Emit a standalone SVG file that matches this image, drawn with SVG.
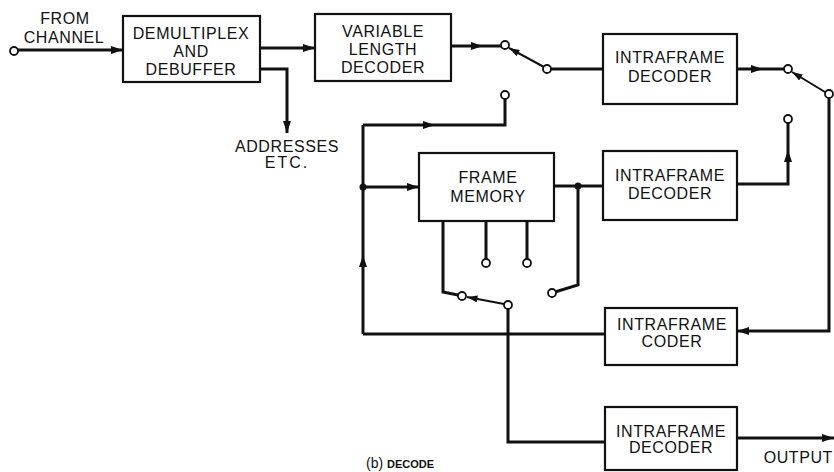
<svg xmlns="http://www.w3.org/2000/svg" width="834" height="472" viewBox="0 0 834 472">
<defs>
<style>
.box{fill:#fff;stroke:#111;stroke-width:2.2}
.t{font-family:"Liberation Sans",Arial,Helvetica,sans-serif;font-size:16px;letter-spacing:0.6px;fill:#111;text-anchor:middle}
.w{fill:none;stroke:#111;stroke-width:3;stroke-linejoin:miter}
.lv{fill:none;stroke:#111;stroke-width:2}
.pt{fill:#fff;stroke:#111;stroke-width:1.8}
.dot{fill:#111}
.a{marker-end:url(#ah)}
.as{marker-end:url(#ahs)}
</style>
<marker id="ah" viewBox="0 0 12 8" refX="12" refY="4" markerWidth="12" markerHeight="8" markerUnits="userSpaceOnUse" orient="auto">
<path d="M0,0 L12,4 L0,8 z" fill="#111"/>
</marker>
<marker id="ahs" viewBox="0 0 12 8" refX="12" refY="4" markerWidth="11" markerHeight="7" markerUnits="userSpaceOnUse" orient="auto">
<path d="M0,0 L12,4 L0,8 z" fill="#111"/>
</marker>
</defs>
<rect width="834" height="472" fill="#fff"/>

<g id="connectors">
<path class="w a" d="M18,50 L123,50"/>
<path class="w a" d="M260,48 L315,48"/>
<path class="w a" d="M260,69 L287,69 L287,133"/>
<path class="w a" d="M451,46 L483,46"/>
<path class="w" d="M483,46 L501,46"/>
<path class="lv as" d="M544,67 L509,48"/>
<path class="w" d="M551,69 L603,69"/>
<path class="w a" d="M737,69 L763,69"/>
<path class="w" d="M763,69 L784,69"/>
<path class="lv as" d="M825,92 L792,72"/>
<path class="w a" d="M829,98 L829,331 L737,331"/>
<path class="w a" d="M737,184 L788,184 L788,150"/>
<path class="w" d="M788,150 L788,123"/>
<path class="w" d="M505,99 L505,125 L435,125"/>
<path class="w a" d="M363,125 L435,125"/>
<path class="w a" d="M363,334 L363,255"/>
<path class="w" d="M363,255 L363,125"/>
<path class="w" d="M605,334 L363,334"/>
<path class="w a" d="M363,187 L419,187"/>
<path class="w" d="M554,186 L603,186"/>
<path class="w" d="M578,186 L578,285 L555,292"/>
<path class="w" d="M443,221 L443,292 L458,295"/>
<path class="w" d="M486,221 L486,259"/>
<path class="w" d="M527,221 L527,259"/>
<path class="lv as" d="M504,304 L467,297"/>
<path class="w" d="M508,309 L508,442 L605,442"/>
<path class="w a" d="M737,438 L834,438"/>
<circle class="dot" cx="363" cy="187" r="3.5"/>
<circle class="dot" cx="578" cy="186" r="3.5"/>
<circle class="pt" cx="14" cy="51" r="4"/>
<circle class="pt" cx="505" cy="45" r="4"/>
<circle class="pt" cx="547" cy="69" r="4"/>
<circle class="pt" cx="505" cy="95" r="4"/>
<circle class="pt" cx="788" cy="69" r="4"/>
<circle class="pt" cx="829" cy="94" r="4"/>
<circle class="pt" cx="788" cy="119" r="4"/>
<circle class="pt" cx="486" cy="263" r="4"/>
<circle class="pt" cx="527" cy="263" r="4"/>
<circle class="pt" cx="462" cy="296" r="4"/>
<circle class="pt" cx="552" cy="293" r="4"/>
<circle class="pt" cx="508" cy="305" r="4"/>
</g>

<g id="from-channel">
<text class="t" x="65" y="24">FROM</text>
<text class="t" x="64" y="43">CHANNEL</text>
</g>

<g id="demux">
<rect class="box" x="123" y="16" width="137" height="66"/>
<text class="t" x="191" y="39">DEMULTIPLEX</text>
<text class="t" x="191" y="57">AND</text>
<text class="t" x="191" y="75">DEBUFFER</text>
</g>

<g id="addresses">
<text class="t" x="287" y="152">ADDRESSES</text>
<text class="t" x="287" y="168" style="letter-spacing:2px">ETC.</text>
</g>

<g id="vld">
<rect class="box" x="315" y="14" width="136" height="67"/>
<text class="t" x="383" y="37">VARIABLE</text>
<text class="t" x="383" y="55">LENGTH</text>
<text class="t" x="383" y="73">DECODER</text>
</g>

<g id="intraframe-decoder-1">
<rect class="box" x="603" y="34" width="134" height="70"/>
<text class="t" x="670" y="63">INTRAFRAME</text>
<text class="t" x="670" y="82">DECODER</text>
</g>

<g id="frame-memory">
<rect class="box" x="419" y="153" width="135" height="68"/>
<text class="t" x="488" y="183">FRAME</text>
<text class="t" x="488" y="202">MEMORY</text>
</g>

<g id="intraframe-decoder-2">
<rect class="box" x="603" y="151" width="134" height="69"/>
<text class="t" x="670" y="181">INTRAFRAME</text>
<text class="t" x="670" y="199">DECODER</text>
</g>

<g id="intraframe-coder">
<rect class="box" x="605" y="308" width="132" height="57"/>
<text class="t" x="672" y="330">INTRAFRAME</text>
<text class="t" x="672" y="347">CODER</text>
</g>

<g id="intraframe-decoder-3">
<rect class="box" x="605" y="407" width="132" height="63"/>
<text class="t" x="671" y="437">INTRAFRAME</text>
<text class="t" x="671" y="453">DECODER</text>
</g>

<g id="output">
<text class="t" x="833" y="463" style="text-anchor:end">OUTPUT</text>
</g>

<g id="caption">
<text x="366" y="468" style="font-family:'Liberation Sans',Arial,sans-serif;font-size:14px;fill:#111">(b) <tspan style="font-size:11px;font-weight:bold">DECODE</tspan></text>
</g>
</svg>
